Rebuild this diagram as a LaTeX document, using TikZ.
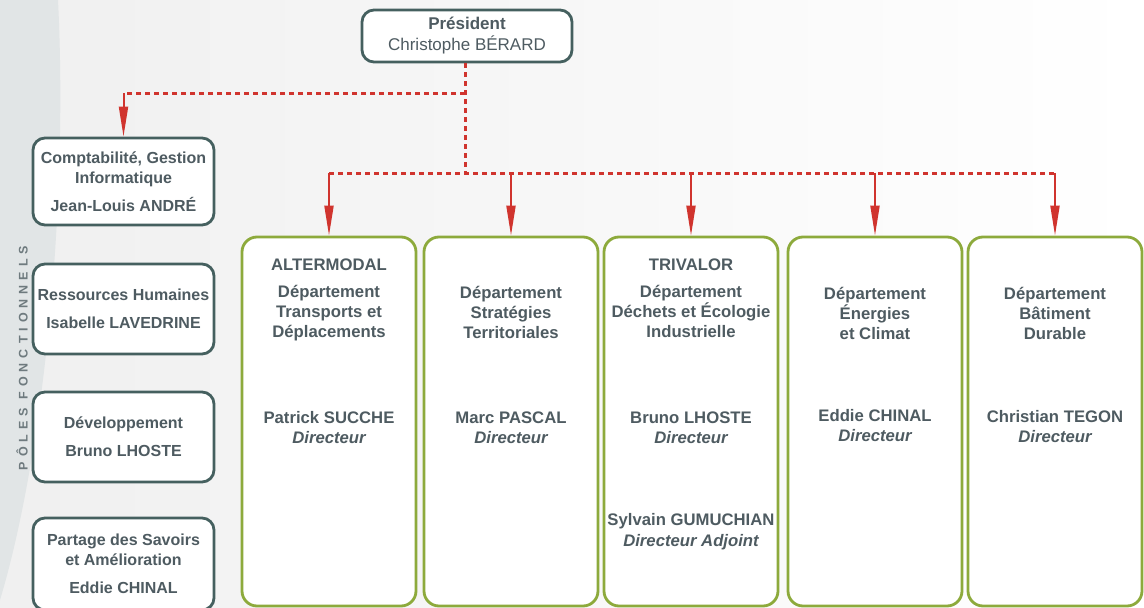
\documentclass[tikz,border=0pt]{standalone}
\usepackage{fontspec}
\setmainfont{Liberation Sans}
\newfontfamily\polesfont{Liberation Sans}[LetterSpace=40]
\usetikzlibrary{positioning,arrows.meta}

\definecolor{txtgray}{HTML}{4E5B61}
\definecolor{poleline}{HTML}{45605F}
\definecolor{depline}{HTML}{8DAA3C}
\definecolor{linkred}{HTML}{D0342E}
\definecolor{bandgray}{HTML}{E1E5E6}
\definecolor{polegray}{HTML}{6E7A7E}

\begin{document}
\begin{tikzpicture}[
    x=1pt, y=-1pt,
    every node/.style={text=txtgray, font=\fontsize{16}{20}\selectfont\bfseries},
    pole/.style={draw=poleline, line width=2.8pt, rounded corners=12pt, fill=white,
                 minimum width=181pt, align=center, inner sep=0pt},
    dept/.style={draw=depline, line width=2.8pt, rounded corners=15pt, fill=white,
                 minimum width=174pt, minimum height=369pt},
    deptext/.style={align=center, inner sep=0pt, font=\fontsize{16.7}{20}\selectfont\bfseries},
    link/.style={draw=linkred, line width=3pt, dash pattern=on 5pt off 4pt},
    down/.style={draw=linkred, line width=2pt, -{Triangle[length=30pt,width=9pt]}}
]

% Background
    \useasboundingbox (0,0) rectangle (1144,608);
    \fill[left color=black!6, right color=white] (0,0) rectangle (1144,608);
    \fill[bandgray] (0,0) -- (58,0) .. controls (68,200) and (45,450) .. (0,600) -- cycle;

% President
    \node[pole, minimum width=210pt, minimum height=52pt,
          font=\fontsize{17}{21}\selectfont\bfseries] (pres) at (467,36)
        {Président\\{\mdseries Christophe BÉRARD}};

% --- Functional poles (left column)
    \node[pole, minimum height=87pt] (p1) at (123.5,181.5)
        {Comptabilité, Gestion\\Informatique\\[8pt]Jean-Louis ANDRÉ};
    \node[pole, minimum height=90pt] (p2) at (123.5,309)
        {Ressources Humaines\\[8pt]Isabelle LAVEDRINE};
    \node[pole, minimum height=90pt] (p3) at (123.5,437)
        {Développement\\[8pt]Bruno LHOSTE};
    \node[pole, minimum height=92pt] (p4) at (123.5,564)
        {Partage des Savoirs\\et Amélioration\\[8pt]Eddie CHINAL};

    \node[rotate=90, text=polegray, font=\polesfont\fontsize{12.5}{14}\selectfont\bfseries]
        (poles) at (22,358) {PÔLES FONCTIONNELS};

% --- Departments
    \node[dept] (d1) at (329,421.5) {};
    \node[dept] (d2) at (511,421.5) {};
    \node[dept] (d3) at (691,421.5) {};
    \node[dept] (d4) at (875,421.5) {};
    \node[dept] (d5) at (1055,421.5) {};

    \node[deptext, below=23pt of d1.north] (d1top)
        {ALTERMODAL\\[7pt]Département\\Transports et\\Déplacements};
    \node[deptext, below=50pt of d2.north] (d2top)
        {Département\\Stratégies\\Territoriales};
    \node[deptext, below=23pt of d3.north] (d3top)
        {TRIVALOR\\[7pt]Département\\Déchets et Écologie\\Industrielle};
    \node[deptext, below=51pt of d4.north] (d4top)
        {Département\\Énergies\\et Climat};
    \node[deptext, below=51pt of d5.north] (d5top)
        {Département\\Bâtiment\\Durable};

    \node[deptext, below=176pt of d1.north] (d1dir) {Patrick SUCCHE\\{\itshape Directeur}};
    \node[deptext, below=176pt of d2.north] (d2dir) {Marc PASCAL\\{\itshape Directeur}};
    \node[deptext, below=176pt of d3.north] (d3dir) {Bruno LHOSTE\\{\itshape Directeur}};
    \node[deptext, below=278pt of d3.north] (d3adj) {Sylvain GUMUCHIAN\\[1pt]{\itshape Directeur Adjoint}};
    \node[deptext, below=174pt of d4.north] (d4dir) {Eddie CHINAL\\{\itshape Directeur}};
    \node[deptext, below=175pt of d5.north] (d5dir) {Christian TEGON\\{\itshape Directeur}};

% --- Links
    \coordinate (upper) at (465,93);
    \coordinate (lower) at (465,173);
    \draw[link] (pres.south -| upper) -- (lower);
    \draw[link] (upper) -- (upper -| p1);
    \draw[down] (upper -| p1) -- (p1.north);
    \draw[link] (lower -| d1) -- (lower -| d5);
    \draw[down] (lower -| d1) -- (d1.north);
    \draw[down] (lower -| d2) -- (d2.north);
    \draw[down] (lower -| d3) -- (d3.north);
    \draw[down] (lower -| d4) -- (d4.north);
    \draw[down] (lower -| d5) -- (d5.north);
\end{tikzpicture}
\end{document}
